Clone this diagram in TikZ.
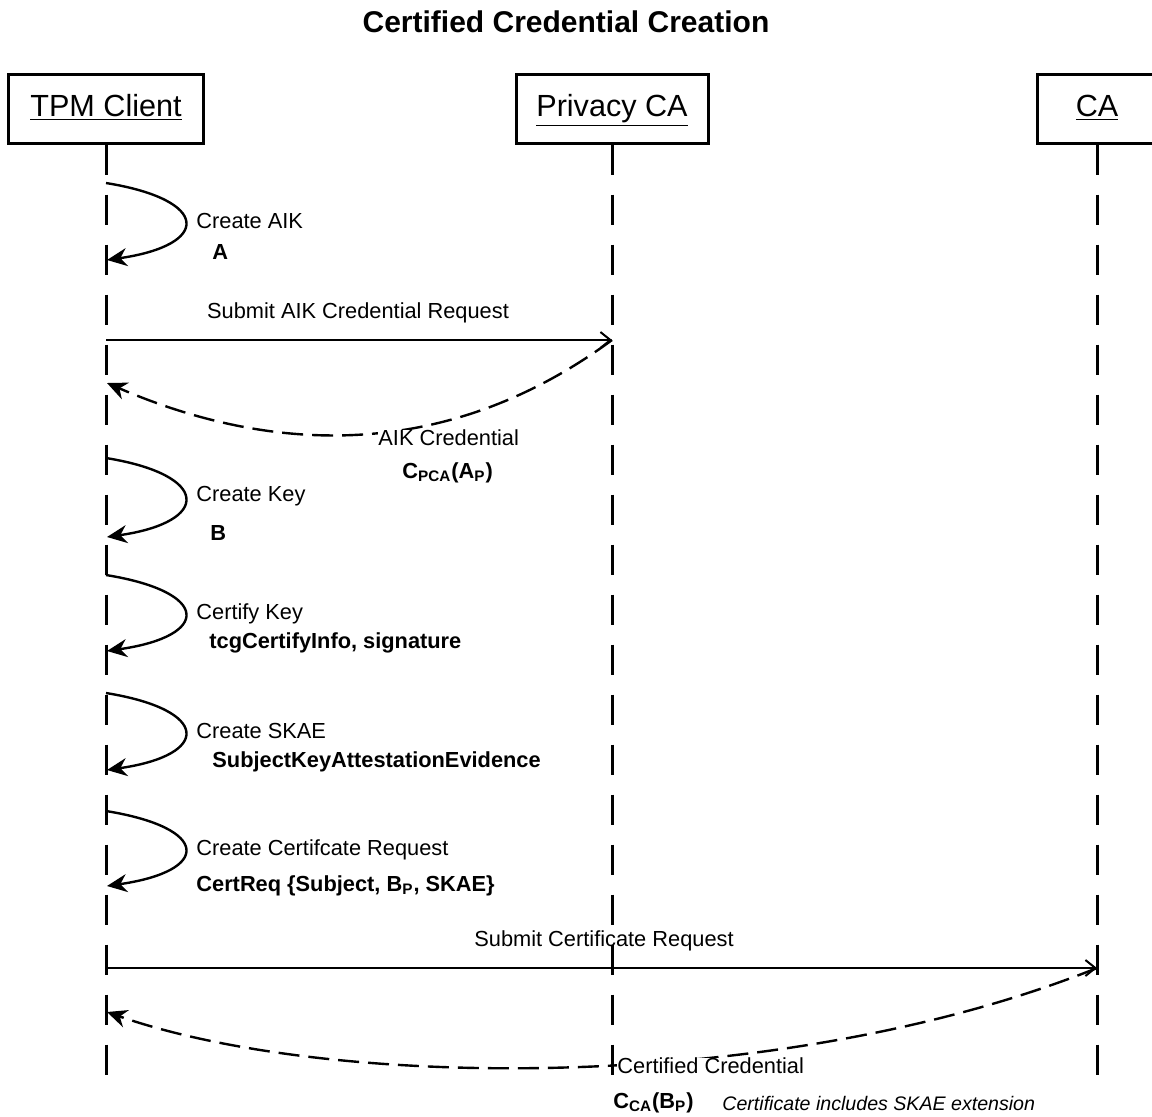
\documentclass[tikz,border=0pt]{standalone}
\usepackage{fontspec}
\setmainfont{Liberation Sans}
\usetikzlibrary{arrows.meta}
\usetikzlibrary{positioning}

\begin{document}
\begin{tikzpicture}[x=0.5pt,y=-0.5pt,
                actor/.style={draw, line width=1.5pt, minimum height=34.5pt, inner sep=0pt, text height=11pt, text depth=3pt, font=\fontsize{15.3}{18}\selectfont},
                lifeline/.style={line width=1.5pt, dash pattern=on 15pt off 10pt},
                selfcall/.style={draw, line width=1.2pt, -{Stealth[length=10pt,width=9pt]}},
                call/.style={draw, line width=1pt, -{Straight Barb[length=5pt,width=8pt]}},
                reply/.style={draw, line width=1.2pt, dash pattern=on 10.5pt off 4.5pt, -{Stealth[length=10pt,width=9pt]}},
                label/.style={inner sep=0pt, font=\fontsize{10.9}{13}\selectfont},
                value/.style={inner sep=0pt, font=\fontsize{10.9}{13}\selectfont\bfseries}
            ]
            \useasboundingbox (0,0) rectangle (1152,1116);
            \node[font=\fontsize{15}{18}\selectfont\bfseries] (title) at (566,22) {Certified Credential Creation};

            % actors and lifelines
            \node[actor, minimum width=97.5pt] (tpm) at (106,108.5) {\underline{TPM Client}};
            \node[actor, minimum width=96pt] (pca) at (612,108.5) {\underline{Privacy CA}};
            \node[actor, minimum width=60pt] (ca) at (1097,108.5) {\underline{CA}};
            \coordinate (tpm-end) at (106,1080);
            \coordinate (pca-end) at (612,1080);
            \coordinate (ca-end) at (1097,1080);
            \draw[lifeline] (tpm.south) -- (tpm-end);
            \draw[lifeline] (pca.south) -- (pca-end);
            \draw[lifeline] (ca.south) -- (ca-end);

            % create AIK
            \coordinate (aik-s) at (106,183);
            \coordinate (aik-e) at (107,260);
            \path[selfcall] (aik-s) .. controls +(105,17) and +(104,-15) .. (aik-e);
            \node[label, anchor=west] (aik-lbl) at (196,221) {Create AIK};
            \node[value, anchor=west] (aik-val) at (212,252) {A};

            % AIK credential request
            \coordinate (req1-s) at (106,340);
            \coordinate (req1-e) at (612,340);
            \coordinate (req1-ret) at (107,383);
            \path[call] (req1-s) -- (req1-e);
            \node[label] (req1-lbl) at (358,313) {Submit AIK Credential Request};
            \path[reply] (req1-e) .. controls (460,452) and (290,462) .. (req1-ret);
            \node[label, anchor=west, fill=white] (cred1-lbl) at (378,438) {AIK Credential};
            \node[value, anchor=west] (cred1-val) at (402,473) {C\textsubscript{PCA}(A\textsubscript{P})};

            % create key
            \coordinate (key-s) at (106,458);
            \coordinate (key-e) at (107,537);
            \path[selfcall] (key-s) .. controls +(105,17) and +(104,-15) .. (key-e);
            \node[label, anchor=west] (key-lbl) at (196,496) {Create Key};
            \node[value, anchor=west] (key-val) at (210,533) {B};

            % certify key
            \coordinate (cert-s) at (106,575);
            \coordinate (cert-e) at (107,651);
            \path[selfcall] (cert-s) .. controls +(105,17) and +(104,-15) .. (cert-e);
            \node[label, anchor=west] (cert-lbl) at (196,614) {Certify Key};
            \node[value, anchor=west] (cert-val) at (209,643) {tcgCertifyInfo, signature};

            % create SKAE
            \coordinate (skae-s) at (106,693);
            \coordinate (skae-e) at (107,770);
            \path[selfcall] (skae-s) .. controls +(105,17) and +(104,-15) .. (skae-e);
            \node[label, anchor=west] (skae-lbl) at (196,731) {Create SKAE};
            \node[value, anchor=west] (skae-val) at (212,762) {SubjectKeyAttestationEvidence};

            % create certificate request
            \coordinate (creq-s) at (106,811);
            \coordinate (creq-e) at (107,886);
            \path[selfcall] (creq-s) .. controls +(105,17) and +(104,-15) .. (creq-e);
            \node[label, anchor=west] (creq-lbl) at (196,850) {Create Certifcate Request};
            \node[value, anchor=west] (creq-val) at (196,886) {CertReq \{Subject, B\textsubscript{P}, SKAE\}};

            % certificate request to CA
            \coordinate (req2-s) at (106,968);
            \coordinate (req2-e) at (1097,968);
            \coordinate (req2-ret) at (107,1012);
            \path[call] (req2-s) -- (req2-e);
            \node[label] (req2-lbl) at (604,941) {Submit Certificate Request};
            \path[reply] (req2-e) .. controls (780,1095) and (330,1090) .. (req2-ret);
            \node[label, anchor=west, fill=white] (cred2-lbl) at (617,1066) {Certified Credential};
            \node[value, anchor=west] (cred2-val) at (613,1103) {C\textsubscript{CA}(B\textsubscript{P})};
            \node[label, anchor=west, font=\fontsize{9.8}{12}\selectfont\itshape] (cred2-note) at (722,1103) {Certificate includes SKAE extension};
        \end{tikzpicture}
\end{document}
